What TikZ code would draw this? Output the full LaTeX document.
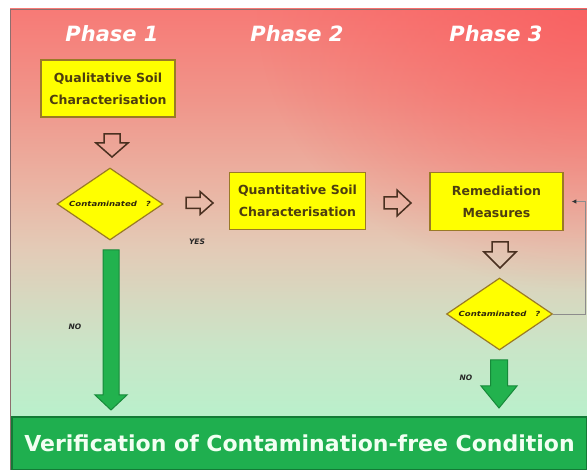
\documentclass[tikz,border=0pt]{standalone}
\usepackage{fontspec}
\setmainfont{DejaVu Sans}
\newfontfamily\widefont[FakeStretch=1.22]{DejaVu Sans}
\usetikzlibrary{shapes.geometric,arrows.meta,fadings}
\definecolor{cA}{HTML}{B6F2CD}
\definecolor{cB}{HTML}{BBEFCB}
\definecolor{cC}{HTML}{C9E6C8}
\definecolor{cD}{HTML}{D6D9C0}
\definecolor{cE}{HTML}{E3CBB7}
\definecolor{cF}{HTML}{EAB5A4}
\definecolor{cG}{HTML}{F0958A}
\definecolor{cH}{HTML}{F77A76}
\definecolor{redtint}{HTML}{FA5A5C}
\pgfdeclareverticalshading{bgsh}{100bp}{color(0bp)=(cA); color(25bp)=(cA);
  color(31.5bp)=(cB); color(38bp)=(cC); color(43.4bp)=(cD); color(48.9bp)=(cE);
  color(55.4bp)=(cF); color(65.1bp)=(cG); color(75bp)=(cH); color(100bp)=(cH)}
\tikzfading[name=cornerfade, inner color=transparent!0, outer color=transparent!100]
\definecolor{boxfill}{HTML}{FFFF00}
\definecolor{boxline}{HTML}{9A7A26}
\definecolor{boxtext}{HTML}{4D3D10}
\definecolor{hollowline}{HTML}{4A3020}
\definecolor{grfill}{HTML}{22B24E}
\definecolor{grline}{HTML}{178A3A}
\definecolor{barfill}{HTML}{1FAF4F}
\definecolor{barline}{HTML}{137A36}
\definecolor{framecol}{HTML}{8E6E6E}
\newcommand{\blkdown}[7]{% style, x, ytop, yhead, ytip, half shaft, half head
  \draw[#1] ({#2-#6},#3) -- ({#2+#6},#3) -- ({#2+#6},#4) -- ({#2+#7},#4) -- (#2,#5)
    -- ({#2-#7},#4) -- ({#2-#6},#4) -- cycle;}
\newcommand{\blkright}[7]{% style, y, xleft, xhead, xtip, half shaft, half head
  \draw[#1] (#3,{#2-#6}) -- (#4,{#2-#6}) -- (#4,{#2-#7}) -- (#5,#2) -- (#4,{#2+#7})
    -- (#4,{#2+#6}) -- (#3,{#2+#6}) -- cycle;}
\begin{document}
\begin{tikzpicture}[x=1pt,y=-1pt,
  phase/.style={text=white,font=\bfseries\itshape\fontsize{21}{24}\selectfont},
  procbox/.style={draw=boxline,line width=1.5pt,fill=boxfill,text=boxtext,
    align=center,inner sep=0pt,font=\bfseries\fontsize{12.5}{22}\selectfont},
  decision/.style={diamond,draw=boxline,line width=1.2pt,fill=boxfill,inner sep=0pt,
    minimum width=106pt,minimum height=72pt,aspect=1.47,
    font=\widefont\bfseries\itshape\fontsize{7}{9}\selectfont,text=boxtext!60!black},
  lbl/.style={font=\bfseries\itshape\fontsize{7.5}{9}\selectfont,text=black!85},
  hollow/.style={draw=hollowline,line width=1.5pt,line join=miter},
  green/.style={draw=grline,line width=1pt,fill=grfill,line join=miter},
  loopline/.style={draw=black!45,line width=0.8pt,shorten >=8pt,
    -{Latex[length=4.5pt,width=4.5pt,color=black!80]}}
]
\useasboundingbox (0,0) rectangle (587,470);
\fill[white] (0,0) rectangle (587,470);
% background
\shade[shading=bgsh] (10,9) rectangle (587,470);
\begin{scope}
  \clip (10,9) rectangle (587,470);
  \fill[redtint,opacity=0.75,path fading=cornerfade] (257,-271) rectangle (917,289);
\end{scope}
\draw[framecol,line width=1.2pt] (10.5,470) -- (10.5,9.5) -- (587,9.5);

% phase labels
\node[phase] (p1) at (112,34) {Phase 1};
\node[phase] (p2) at (297,34) {Phase 2};
\node[phase] (p3) at (496,34) {Phase 3};

% boxes
\node[procbox,minimum width=134pt,minimum height=57pt] (b1) at (108,88.5)
  {Qualitative Soil\\Characterisation};
\node[procbox,minimum width=136pt,minimum height=57pt] (b2) at (297.5,201)
  {Quantitative Soil\\Characterisation};
\node[procbox,minimum width=133pt,minimum height=58pt] (b3) at (496.5,201.5)
  {Remediation\\Measures};

% decisions
\node[decision] (d1) at (110,204) {Contaminated\ \ \ ?};
\node[decision] (d2) at (499.5,314) {Contaminated\ \ \ ?};

% hollow block arrows
\blkdown{hollow}{112}{134}{143}{157}{8}{16}
\blkright{hollow}{203}{186}{200}{213}{5.5}{11.5}
\blkright{hollow}{203}{384}{397}{411}{6}{13}
\blkdown{hollow}{500}{242}{252}{268}{8}{16}

% green arrows
\blkdown{green}{111}{250}{395}{410}{8}{16}
\blkdown{green}{499}{360}{386}{408}{8.5}{18}

% labels
\node[lbl] (yes) at (197,242) {YES};
\node[lbl] (no1) at (75,327) {NO};
\node[lbl] (no2) at (466,378) {NO};

% feedback loop
\draw[loopline] (d2.east) -- (585,314) |- (b3.east);

% bottom bar
\node[draw=barline,line width=1.2pt,fill=barfill,minimum width=575pt,minimum height=53pt,
  inner sep=0pt,text=white!95!green,font=\bfseries\fontsize{22}{24}\selectfont]
  (bar) at (299.5,443.5) {Verification of Contamination-free Condition};
\end{tikzpicture}
\end{document}
